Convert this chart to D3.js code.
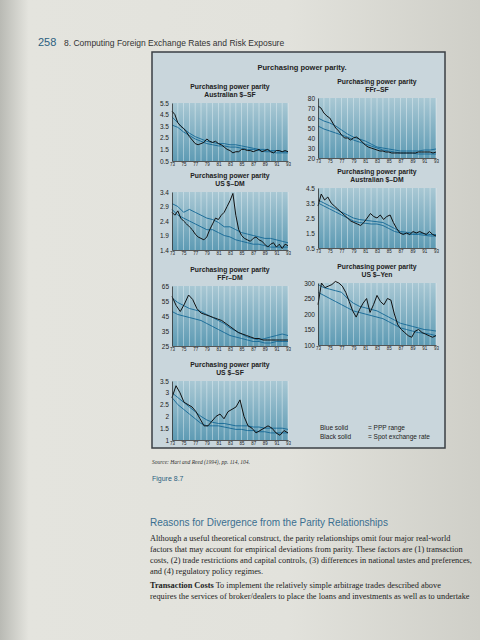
<!DOCTYPE html>
<html lang="en">
<head>
<meta charset="UTF-8">
<title>Purchasing power parity</title>
<style>
  body { margin: 0; background: #dcdcd6; }
  svg { display: block; }
  .tick text { font-family: "Liberation Sans", sans-serif; fill: #222; }
  .domain { stroke: #333; }
</style>
</head>
<body>
<svg id="page" width="480" height="640"></svg>
<script src="https://d3js.org/d3.v7.min.js"></script>
<script>
// ---- data ----
const years = d3.range(1973, 1994);
const xTicks = [1973, 1975, 1977, 1979, 1981, 1983, 1985, 1987, 1989, 1991, 1993];

const panelTitles = ["Australian $–SF", "FFr–SF", "US $–DM", "Australian $–DM", "FFr–DM", "US $–Yen", "US $–SF"];
const yTicks = [
  [0.5, 1.5, 2.5, 3.5, 4.5, 5.5],
  [20, 30, 40, 50, 60, 70, 80],
  [1.4, 1.9, 2.4, 2.9, 3.4],
  [0.5, 1.5, 2.5, 3.5, 4.5],
  [25, 35, 45, 55, 65],
  [100, 150, 200, 250, 300],
  [1, 1.5, 2, 2.5, 3, 3.5]
];
const spot = [
  [4.8,4.5,3.8,3.5,3.3,3.0,2.6,2.3,2.0,1.9,2.0,2.1,2.4,2.2,2.1,2.2,2.0,1.9,1.7,1.5,1.4,1.2,1.3,1.3,1.5,1.5,1.4,1.4,1.3,1.4,1.5,1.3,1.4,1.5,1.3,1.2,1.4,1.4,1.3,1.4,1.3],
  [72,70,65,62,60,55,50,47,43,40,40,38,40,41,39,36,33,31,30,29,28,27,27,26,26,25,25,25,25,25,25,25,25,25,26,26,26,26,26,25,26],
  [2.7,2.6,2.75,2.5,2.4,2.3,2.2,2.1,1.95,1.85,1.8,1.75,1.85,2.1,2.3,2.5,2.45,2.6,2.7,2.9,3.1,3.35,2.6,2.1,1.9,1.8,1.75,1.7,1.8,1.85,1.75,1.7,1.6,1.5,1.6,1.65,1.5,1.6,1.45,1.6,1.55],
  [3.3,4.1,3.7,3.9,3.5,3.3,3.1,2.9,2.7,2.5,2.3,2.2,2.1,2.0,2.2,2.5,2.8,2.6,2.5,2.7,2.4,2.6,2.7,2.2,1.8,1.5,1.4,1.5,1.4,1.6,1.5,1.6,1.5,1.4,1.6,1.4,1.3],
  [58,52,48,53,59,56,50,47,46,45,44,43,42,40,38,36,34,33,32,31,30,30,29,29,29,29,29,29,29],
  [230,300,285,290,295,305,300,290,270,240,210,190,215,235,250,205,230,260,240,230,250,245,200,165,150,140,130,125,145,150,140,135,130,125,130],
  [2.8,3.3,3.0,2.6,2.5,2.4,2.2,1.9,1.6,1.6,1.8,2.0,2.1,1.9,2.2,2.3,2.4,2.7,2.0,1.6,1.5,1.3,1.4,1.5,1.6,1.5,1.3,1.2,1.4,1.3]
];
const pppUpper = [
  [4.3,3.8,3.3,2.9,2.6,2.4,2.2,2.1,2.0,2.0,1.9,1.9,1.8,1.7,1.6,1.5,1.5,1.4,1.4,1.3,1.3],
  [60,57,55,52,48,44,41,39,37,34,31,30,29,28,27,27,27,27,28,28,29],
  [3.0,2.9,2.7,2.8,2.7,2.6,2.5,2.45,2.35,2.2,2.2,2.1,2.0,1.95,1.9,1.85,1.8,1.8,1.75,1.7,1.65],
  [3.7,3.5,3.3,3.1,2.9,2.7,2.5,2.4,2.35,2.3,2.25,2.2,2.0,1.8,1.6,1.55,1.5,1.5,1.45,1.4,1.4],
  [57,54,52,50,49,48,46,44,42,40,37,35,33,31,30,29,30,31,32,33,32],
  [295,285,280,275,270,250,235,225,220,215,210,200,190,180,170,165,160,155,150,148,145],
  [3.0,2.8,2.6,2.4,2.2,2.0,1.85,1.75,1.7,1.7,1.65,1.6,1.6,1.6,1.55,1.55,1.5,1.5,1.5,1.5,1.45]
];
const pppLower = [
  [3.6,3.4,3.0,2.7,2.4,2.2,2.0,1.9,1.8,1.8,1.7,1.7,1.6,1.5,1.5,1.4,1.3,1.3,1.2,1.2,1.2],
  [52,49,47,45,43,41,38,36,34,32,30,28,27,26,25,25,25,24,24,24,24],
  [2.8,2.6,2.5,2.4,2.3,2.2,2.1,2.1,2.0,1.9,1.85,1.75,1.7,1.65,1.6,1.6,1.55,1.5,1.5,1.5,1.5],
  [3.5,3.3,3.1,2.9,2.7,2.5,2.3,2.2,2.15,2.1,2.1,2.0,1.8,1.6,1.5,1.45,1.4,1.4,1.35,1.3,1.3],
  [48,46,45,44,43,42,40,38,36,34,32,31,30,29,28,28,27,27,28,28,28],
  [270,260,250,240,230,220,210,205,200,195,190,185,175,165,155,150,145,140,138,135,130],
  [2.8,2.5,2.3,2.1,1.9,1.7,1.6,1.6,1.6,1.55,1.5,1.45,1.45,1.4,1.4,1.35,1.35,1.3,1.3,1.3,1.3]
];

// ---- layout ----
const plots = [
  { x: 172, y: 103, w: 116, h: 58 },
  { x: 318, y: 98,  w: 118, h: 60 },
  { x: 172, y: 192, w: 116, h: 58 },
  { x: 318, y: 188, w: 118, h: 60 },
  { x: 172, y: 286, w: 116, h: 60 },
  { x: 318, y: 283, w: 118, h: 62 },
  { x: 172, y: 381, w: 116, h: 59 }
];

const svg = d3.select("#page");
const defs = svg.append("defs");

// page shading
const pg = defs.append("linearGradient").attr("id", "pageg").attr("x1", 0).attr("x2", 1);
pg.append("stop").attr("offset", 0).attr("stop-color", "#b9bab4");
pg.append("stop").attr("offset", 0.06).attr("stop-color", "#e4e4de");
pg.append("stop").attr("offset", 0.6).attr("stop-color", "#e2e2dc");
pg.append("stop").attr("offset", 1).attr("stop-color", "#cfcfc8");
svg.append("rect").attr("width", 480).attr("height", 640).attr("fill", "url(#pageg)");

const plotg = defs.append("linearGradient").attr("id", "plotg").attr("x1", 0).attr("x2", 0).attr("y1", 0).attr("y2", 1);
plotg.append("stop").attr("offset", 0).attr("stop-color", "#a9c8d4");
plotg.append("stop").attr("offset", 1).attr("stop-color", "#5e9bb4");

// running head
svg.append("text").attr("x", 38).attr("y", 46).attr("font-family", "Liberation Sans, sans-serif")
  .attr("font-size", 11).attr("fill", "#2b5f80").text("258");
svg.append("text").attr("x", 64).attr("y", 46).attr("font-family", "Liberation Sans, sans-serif")
  .attr("font-size", 8.5).attr("fill", "#333").text("8.   Computing Foreign Exchange Rates and Risk Exposure");

// figure box
svg.append("rect").attr("x", 152).attr("y", 52).attr("width", 293).attr("height", 396)
  .attr("fill", "#c9d6dc").attr("stroke", "#3a3f44").attr("stroke-width", 1.5);
svg.append("text").attr("x", 302).attr("y", 70).attr("text-anchor", "middle")
  .attr("font-family", "Liberation Sans, sans-serif").attr("font-size", 7.5).attr("font-weight", "bold")
  .attr("fill", "#222").text("Purchasing power parity.");

plots.forEach((p, i) => {
  const g = svg.append("g").attr("transform", `translate(${p.x},${p.y})`);
  const ext = d3.extent(yTicks[i]);
  const x = d3.scaleLinear().domain([1973, 1993]).range([0, p.w]);
  const y = d3.scaleLinear().domain(ext).range([p.h, 0]);

  g.append("rect").attr("width", p.w).attr("height", p.h).attr("fill", "url(#plotg)");
  g.selectAll(".grid").data(years.slice(1)).join("line")
    .attr("x1", d => x(d)).attr("x2", d => x(d)).attr("y1", 0).attr("y2", p.h)
    .attr("stroke", "#eaf3f6").attr("stroke-width", 0.6).attr("opacity", 0.8);

  const line = d3.line().x(d => x(d[0])).y(d => y(d[1]));
  [pppUpper[i], pppLower[i]].forEach(s => {
    g.append("path").datum(s.map((v, k) => [years[k], v]))
      .attr("d", line).attr("fill", "none").attr("stroke", "#1f6f9a").attr("stroke-width", 1);
  });
  const n = spot[i].length;
  g.append("path").datum(spot[i].map((v, k) => [1973 + 20 * k / (n - 1), v]))
    .attr("d", line).attr("fill", "none").attr("stroke", "#111").attr("stroke-width", 1);

  g.append("g").attr("transform", `translate(0,${p.h})`)
    .call(d3.axisBottom(x).tickValues(xTicks).tickFormat(d => String(d % 100)).tickSize(0).tickPadding(2))
    .call(a => a.selectAll("text").attr("font-size", 4.5));
  g.append("g")
    .call(d3.axisLeft(y).tickValues(yTicks[i]).tickFormat(d => String(d)).tickSize(0).tickPadding(3))
    .call(a => a.selectAll("text").attr("font-size", 6.5));
  g.selectAll(".domain").attr("stroke-width", 0.8);

  const t = g.append("text").attr("text-anchor", "middle")
    .attr("font-family", "Liberation Sans, sans-serif").attr("font-size", 6.8).attr("font-weight", "bold").attr("fill", "#222");
  t.append("tspan").attr("x", p.w / 2).attr("y", -14).text("Purchasing power parity");
  t.append("tspan").attr("x", p.w / 2).attr("y", -6).text(panelTitles[i]);
});

// legend
const legend = svg.append("g").attr("transform", "translate(320,430)")
  .attr("font-family", "Liberation Sans, sans-serif").attr("font-size", 6.5).attr("fill", "#222");
[["Blue solid", "= PPP range"], ["Black solid", "= Spot exchange rate"]].forEach((d, k) => {
  legend.append("text").attr("x", 0).attr("y", k * 9).text(d[0]);
  legend.append("text").attr("x", 48).attr("y", k * 9).text(d[1]);
});

// captions and body text
svg.append("text").attr("x", 152).attr("y", 464).attr("font-family", "Liberation Serif, serif")
  .attr("font-size", 5.5).attr("font-style", "italic").attr("fill", "#333").text("Source: Hart and Reed (1994), pp. 114, 104.");
svg.append("text").attr("x", 152).attr("y", 481).attr("font-family", "Liberation Sans, sans-serif")
  .attr("font-size", 7).attr("fill", "#2b5f80").text("Figure 8.7");
svg.append("text").attr("x", 150).attr("y", 526).attr("font-family", "Liberation Sans, sans-serif")
  .attr("font-size", 10).attr("fill", "#3a6f90").text("Reasons for Divergence from the Parity Relationships");

const body = [
  "Although a useful theoretical construct, the parity relationships omit four major real-world",
  "factors that may account for empirical deviations from parity. These factors are (1) transaction",
  "costs, (2) trade restrictions and capital controls, (3) differences in national tastes and preferences,",
  "and (4) regulatory policy regimes."
];
body.forEach((s, k) => {
  svg.append("text").attr("x", 150).attr("y", 541 + k * 11).attr("font-family", "Liberation Serif, serif")
    .attr("font-size", 8.3).attr("fill", "#222").text(s);
});
const tc = svg.append("text").attr("x", 150).attr("y", 588).attr("font-family", "Liberation Serif, serif")
  .attr("font-size", 8.3).attr("fill", "#222");
tc.append("tspan").attr("font-weight", "bold").text("Transaction Costs");
tc.append("tspan").text("    To implement the relatively simple arbitrage trades described above");
svg.append("text").attr("x", 150).attr("y", 599).attr("font-family", "Liberation Serif, serif")
  .attr("font-size", 8.3).attr("fill", "#222")
  .text("requires the services of broker/dealers to place the loans and investments as well as to undertake");
</script>
</body>
</html>
